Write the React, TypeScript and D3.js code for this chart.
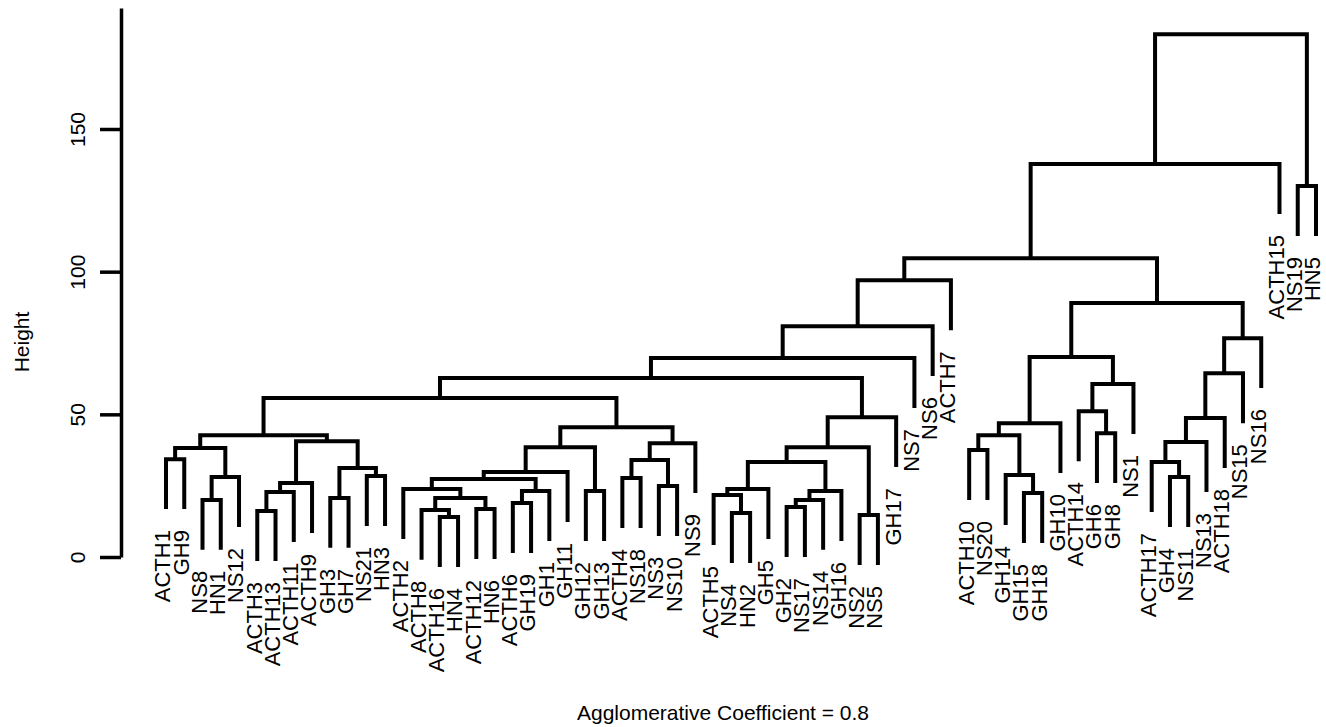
import { useEffect, useRef } from 'react';
import * as d3 from 'd3';

// leaves in plotting order
const leafLabels = [
  "ACTH1", "GH9", "NS8", "HN1", "NS12", "ACTH3", "ACTH13", "ACTH11", "ACTH9", "GH3", "GH7",
  "NS21", "HN3", "ACTH2", "ACTH8", "ACTH16", "HN4", "ACTH12", "HN6", "ACTH6", "GH19", "GH1",
  "GH11", "GH12", "GH13", "ACTH4", "NS18", "NS3", "NS10", "NS9", "ACTH5", "NS4", "HN2", "GH5",
  "GH2", "NS17", "NS14", "GH16", "NS2", "NS5", "GH17", "NS7", "NS6", "ACTH7", "ACTH10", "NS20",
  "GH14", "GH15", "GH18", "GH10", "ACTH14", "GH6", "GH8", "NS1", "ACTH17", "GH4", "NS11", "NS13",
  "ACTH18", "NS15", "NS16", "ACTH15", "NS19", "HN5",
];

// [id, left, right, merge height]
const merges: [string, string, string, number][] = [
  ["a1", "ACTH1", "GH9", 34.3],
  ["a2", "NS8", "HN1", 20.0],
  ["a3", "a2", "NS12", 28.0],
  ["a4", "a1", "a3", 38.2],
  ["a5", "ACTH3", "ACTH13", 16.1],
  ["a6", "a5", "ACTH11", 22.8],
  ["a7", "a6", "ACTH9", 25.9],
  ["a8", "GH3", "GH7", 20.7],
  ["a9", "NS21", "HN3", 28.4],
  ["a10", "a8", "a9", 31.2],
  ["a11", "a7", "a10", 40.6],
  ["a12", "a4", "a11", 42.7],
  ["b1", "ACTH16", "HN4", 14.0],
  ["b2", "ACTH8", "b1", 16.5],
  ["b3", "ACTH12", "HN6", 16.8],
  ["b4", "b2", "b3", 20.7],
  ["b5", "ACTH2", "b4", 23.8],
  ["b6", "ACTH6", "GH19", 18.9],
  ["b7", "b6", "GH1", 23.1],
  ["b8", "b5", "b7", 27.3],
  ["b9", "b8", "GH11", 29.8],
  ["b10", "GH12", "GH13", 23.1],
  ["b11", "b9", "b10", 38.5],
  ["b12", "ACTH4", "NS18", 27.7],
  ["b13", "NS3", "NS10", 24.9],
  ["b14", "b12", "b13", 34.0],
  ["b15", "b14", "NS9", 39.9],
  ["b16", "b11", "b15", 45.5],
  ["c1", "a12", "b16", 55.7],
  ["d1", "NS4", "HN2", 15.4],
  ["d2", "ACTH5", "d1", 21.7],
  ["d3", "d2", "GH5", 23.8],
  ["d4", "GH2", "NS17", 17.5],
  ["d5", "d4", "NS14", 20.0],
  ["d6", "d5", "GH16", 23.1],
  ["d7", "d3", "d6", 33.3],
  ["d8", "NS2", "NS5", 14.7],
  ["d9", "d7", "d8", 38.5],
  ["d10", "d9", "GH17", 49.0],
  ["e1", "c1", "d10", 62.7],
  ["e2", "e1", "NS7", 69.7],
  ["e3", "e2", "NS6", 80.9],
  ["e4", "e3", "ACTH7", 97.0],
  ["f1", "ACTH10", "NS20", 37.5],
  ["f2", "GH15", "GH18", 22.4],
  ["f3", "GH14", "f2", 28.7],
  ["f4", "f1", "f3", 42.7],
  ["f5", "f4", "GH10", 46.9],
  ["f6", "GH6", "GH8", 43.4],
  ["f7", "ACTH14", "f6", 51.1],
  ["f8", "f7", "NS1", 60.6],
  ["f9", "f5", "f8", 70.1],
  ["g1", "GH4", "NS11", 28.0],
  ["g2", "ACTH17", "g1", 33.3],
  ["g3", "g2", "NS13", 40.3],
  ["g4", "g3", "ACTH18", 48.7],
  ["g5", "g4", "NS15", 64.4],
  ["g6", "g5", "NS16", 76.7],
  ["h1", "f9", "g6", 89.0],
  ["h2", "e4", "h1", 104.7],
  ["h3", "h2", "ACTH15", 137.7],
  ["i1", "NS19", "HN5", 130.0],
  ["root", "h3", "i1", 183.2],
];

const yTicks = [0, 50, 100, 150];
const hang = 17.5; // leaves hang this far below their merge
const yLabel = "Height";
const subtitle = "Agglomerative Coefficient = 0.8";

const width = 1326;
const height = 727;
const font = "'Liberation Sans', Arial, Helvetica, sans-serif";

type TNode = { name: string; h?: number; children?: TNode[] };

function buildTree(): TNode {
  const nodes = new Map<string, TNode>();
  leafLabels.forEach(l => nodes.set(l, { name: l }));
  merges.forEach(([id, l, r, h]) => {
    nodes.set(id, { name: id, h, children: [nodes.get(l)!, nodes.get(r)!] });
  });
  return nodes.get(merges[merges.length - 1][0])!;
}

const App = () => {
  const ref = useRef<SVGSVGElement>(null);

  useEffect(() => {
    const svg = d3.select(ref.current);
    svg.selectAll("*").remove();

    const x = d3.scalePoint<string>().domain(leafLabels).range([166, 1316]);
    const y = d3.scaleLinear().domain([0, 150]).range([557, 129]);

    const root = d3.hierarchy<TNode>(buildTree(), d => d.children);
    const xPos = new Map<any, number>();
    root.eachAfter(n => {
      if (!n.children) xPos.set(n, x(n.data.name)!);
      else xPos.set(n, d3.mean(n.children, c => xPos.get(c)!)!);
    });

    const g = svg.append("g")
      .attr("fill", "none")
      .attr("stroke", "#000")
      .attr("stroke-width", 4);

    const internal = root.descendants().filter(n => n.children);
    g.selectAll("path")
      .data(internal)
      .join("path")
      .attr("d", n => {
        const h = n.data.h!;
        const [l, r] = n.children!;
        const hl = l.children ? l.data.h! : h - hang;
        const hr = r.children ? r.data.h! : h - hang;
        return `M${xPos.get(l)},${y(hl)}V${y(h)}H${xPos.get(r)}V${y(hr)}`;
      });

    // leaf labels
    svg.append("g")
      .selectAll("text")
      .data(root.leaves())
      .join("text")
      .attr("transform", n => `translate(${xPos.get(n)},${y(n.parent!.data.h! - hang) + 21}) rotate(-90)`)
      .attr("text-anchor", "end")
      .attr("dy", "0.2em")
      .attr("font-family", font)
      .attr("font-size", 22)
      .text(n => n.data.name);

    // y axis, line running to the top of the plot
    const yAxis = y.copy().domain([0, y.invert(8)]).range([557, 8]);
    const ax = svg.append("g")
      .attr("transform", "translate(121,0)")
      .call(d3.axisLeft(yAxis).tickValues(yTicks).tickSize(21).tickSizeOuter(0));
    ax.select(".domain").attr("stroke-width", 3.5);
    ax.selectAll(".tick line").attr("stroke-width", 3.5);
    ax.selectAll(".tick text")
      .attr("x", 0)
      .attr("y", -43)
      .attr("dy", "0.35em")
      .attr("transform", "rotate(-90)")
      .attr("text-anchor", "middle")
      .attr("fill", "#000")
      .attr("font-family", font)
      .attr("font-size", 21);

    svg.append("text")
      .attr("transform", "translate(22,342) rotate(-90)")
      .attr("text-anchor", "middle")
      .attr("dy", "0.35em")
      .attr("font-family", font)
      .attr("font-size", 21)
      .text(yLabel);

    svg.append("text")
      .attr("x", 723)
      .attr("y", 720)
      .attr("text-anchor", "middle")
      .attr("font-family", font)
      .attr("font-size", 21)
      .text(subtitle);
  }, []);

  return (
    <svg
      ref={ref}
      width={width}
      height={height}
      style={{ position: "absolute", left: 0, top: 0, background: "#fff" }}
    />
  );
};

export default App;
